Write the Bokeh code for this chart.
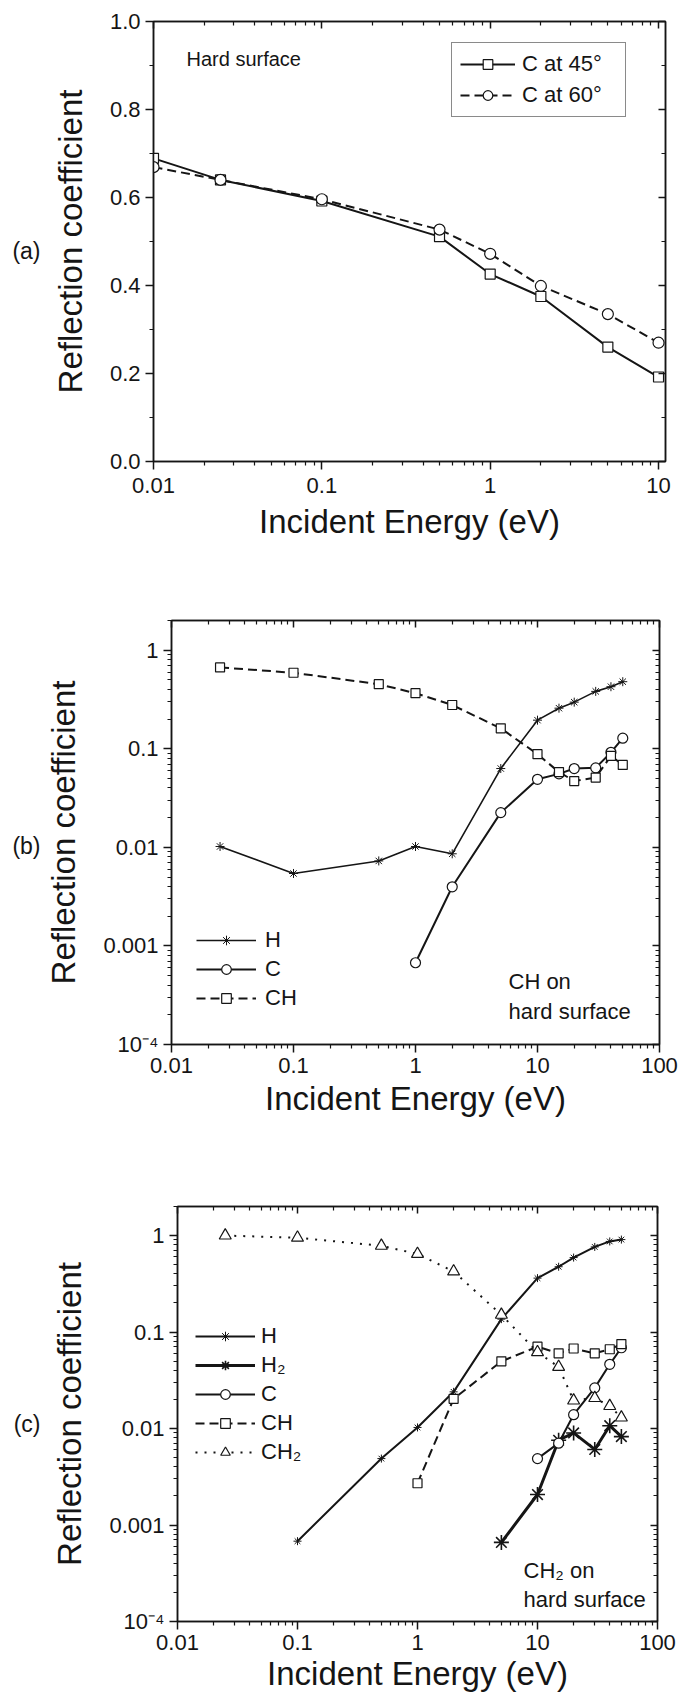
from bokeh.plotting import figure
from bokeh.models import (FixedTicker, LinearAxis, LogAxis, Legend, LegendItem, Label,
                          PrintfTickFormatter, CustomJSTickFormatter, Range1d)
from bokeh.embed import file_html
from bokeh.resources import INLINE

# ---------------- data ----------------
# panel (a): C on hard surface at two incidence angles
a_energy = [0.01, 0.025, 0.1, 0.5, 1, 2, 5, 10]
a_c45 = [0.689, 0.640, 0.592, 0.511, 0.426, 0.375, 0.260, 0.192]
a_c60 = [0.669, 0.640, 0.596, 0.527, 0.472, 0.399, 0.335, 0.270]

# panel (b): CH on hard surface
b_energy_H = [0.025, 0.1, 0.5, 1, 2, 5, 10, 15, 20, 30, 40, 50]
b_H = [0.0102, 0.00543, 0.00728, 0.0102, 0.0086, 0.063, 0.195, 0.258, 0.297, 0.382, 0.426, 0.479]
b_energy_C = [1, 2, 5, 10, 15, 20, 30, 40, 50]
b_C = [0.000675, 0.00398, 0.0225, 0.049, 0.0556, 0.063, 0.064, 0.092, 0.128]
b_energy_CH = [0.025, 0.1, 0.5, 1, 2, 5, 10, 15, 20, 30, 40, 50]
b_CH = [0.669, 0.590, 0.452, 0.366, 0.278, 0.161, 0.0882, 0.058, 0.047, 0.051, 0.0846, 0.0686]

# panel (c): CH2 on hard surface
c_energy_H = [0.1, 0.5, 1, 2, 5, 10, 15, 20, 30, 40, 50]
c_H = [0.00068, 0.00488, 0.01026, 0.024, 0.136, 0.362, 0.475, 0.591, 0.762, 0.869, 0.908]
c_energy_H2 = [5, 10, 15, 20, 30, 40, 50]
c_H2 = [0.00066, 0.00207, 0.00756, 0.009, 0.00607, 0.0107, 0.00825]
c_energy_C = [10, 15, 20, 30, 40, 50]
c_C = [0.00488, 0.00705, 0.0139, 0.0264, 0.0463, 0.0687]
c_energy_CH = [1, 2, 5, 10, 15, 20, 30, 40, 50]
c_CH = [0.00271, 0.0203, 0.0497, 0.0705, 0.0602, 0.0675, 0.0602, 0.0663, 0.075]
c_energy_CH2 = [0.025, 0.1, 0.5, 1, 2, 5, 10, 15, 20, 30, 40, 50]
c_CH2 = [1.0, 0.949, 0.783, 0.645, 0.424, 0.151, 0.0618, 0.0435, 0.0195, 0.0207, 0.0171, 0.013]

# tick labels
a_xticks = [0.01, 0.1, 1, 10]
a_yticks = [0.0, 0.2, 0.4, 0.6, 0.8, 1.0]
a_yminor = [0.1, 0.3, 0.5, 0.7, 0.9]
bc_xticks = [0.01, 0.1, 1, 10, 100]
bc_yticks = [0.0001, 0.001, 0.01, 0.1, 1]

FONT = "Liberation Sans"
INK = "#151515"
TICK_FS = "22px"
TITLE_FS = "33px"


def log_minor(majors):
    out = []
    for d in majors:
        for k in range(2, 10):
            out.append(k * d)
    return out


label_fmt = CustomJSTickFormatter(code="""
if (tick < 0.0005) { return '10\u207B\u2074'; }
return String(parseFloat(tick.toPrecision(6)));
""")
blank_fmt = CustomJSTickFormatter(code="return '';")


def style_axis(ax):
    ax.major_label_text_font = FONT
    ax.major_label_text_font_size = TICK_FS
    ax.major_label_text_color = INK
    ax.axis_label_text_font = FONT
    ax.axis_label_text_font_size = TITLE_FS
    ax.axis_label_text_font_style = "normal"
    ax.axis_label_text_color = INK
    ax.major_tick_out = 8
    ax.major_tick_in = 0
    ax.minor_tick_out = 4
    ax.minor_tick_in = 0
    ax.major_tick_line_width = 1.5
    ax.minor_tick_line_width = 1.2
    ax.major_tick_line_color = INK
    ax.minor_tick_line_color = INK
    ax.axis_line_color = INK
    ax.axis_line_width = 1.5
    ax.major_label_standoff = 5


def mirror_axis(axis_cls, ticker):
    ax = axis_cls(ticker=ticker, formatter=blank_fmt)
    ax.major_tick_in = 7
    ax.major_tick_out = 0
    ax.minor_tick_in = 4
    ax.minor_tick_out = 0
    ax.major_tick_line_width = 1.5
    ax.minor_tick_line_width = 1.2
    ax.major_tick_line_color = INK
    ax.minor_tick_line_color = INK
    ax.axis_line_color = INK
    ax.axis_line_width = 1.5
    ax.major_label_standoff = 0
    return ax


def tag_axis(axis_cls, yval, text, standoff):
    ax = axis_cls(ticker=FixedTicker(ticks=[yval], minor_ticks=[]),
                  formatter=CustomJSTickFormatter(code="return '%s';" % text))
    ax.axis_line_color = None
    ax.major_tick_line_color = None
    ax.minor_tick_line_color = None
    ax.major_tick_out = 0
    ax.major_tick_in = 0
    ax.major_label_standoff = standoff
    ax.major_label_text_font = FONT
    ax.major_label_text_font_size = "23px"
    ax.major_label_text_color = INK
    return ax


def base_fig(height, left, right, top, bottom, x_range, y_range, y_log):
    p = figure(width=694, height=height,
               x_axis_type="log", y_axis_type=("log" if y_log else "linear"),
               x_range=x_range, y_range=y_range,
               output_backend="svg", toolbar_location=None,
               min_border_left=left, min_border_right=right,
               min_border_top=top, min_border_bottom=bottom)
    p.outline_line_color = INK
    p.outline_line_width = 1.5
    p.xgrid.visible = False
    p.ygrid.visible = False
    p.background_fill_color = "white"
    p.border_fill_color = "white"
    return p


def series(p, xs, ys, marker, size, lw, dash="solid", mlw=1.2):
    ln = p.line(xs, ys, line_color=INK, line_width=lw, line_dash=dash)
    sc = p.scatter(xs, ys, marker=marker, size=size, line_color=INK,
                   fill_color="white", line_width=mlw)
    return [ln, sc]


# ---------------- panel (a) ----------------
pa = base_fig(560, 153, 29, 21, 99, Range1d(0.01, 11), Range1d(0.0, 1.0), False)
xt_a = FixedTicker(ticks=a_xticks, minor_ticks=log_minor([0.01, 0.1, 1]))
yt_a = FixedTicker(ticks=a_yticks, minor_ticks=a_yminor)
pa.xaxis.ticker = xt_a
pa.xaxis.formatter = label_fmt
pa.yaxis.ticker = yt_a
pa.yaxis.formatter = PrintfTickFormatter(format="%.1f")
pa.xaxis.axis_label = "Incident Energy (eV)"
pa.yaxis.axis_label = "Reflection coefficient"
for ax in pa.xaxis + pa.yaxis:
    style_axis(ax)
pa.xaxis.major_label_standoff = 8
pa.xaxis.axis_label_standoff = 7
pa.yaxis.axis_label_standoff = 18
pa.add_layout(tag_axis(LinearAxis, 0.4795, "(a)", 8), "left")
pa.add_layout(mirror_axis(LinearAxis, yt_a), "right")
pa.add_layout(mirror_axis(LogAxis, xt_a), "above")

r45 = series(pa, a_energy, a_c45, "square", 10, 2.0)
r60 = series(pa, a_energy, a_c60, "circle", 11, 2.0, dash="9 5")
leg_a = Legend(items=[LegendItem(label="C at 45°", renderers=r45),
                      LegendItem(label="C at 60°", renderers=r60)],
               location=(298, 344), padding=8, spacing=5,
               glyph_width=55, glyph_height=24, label_height=24, label_width=95,
               label_standoff=7, label_text_font=FONT, label_text_font_size="22px",
               label_text_color=INK, border_line_color=INK, border_line_width=1.2,
               background_fill_color="white", background_fill_alpha=1.0)
pa.add_layout(leg_a)
pa.add_layout(Label(x=0.0157, y=0.915, text="Hard surface", text_font=FONT,
                    text_font_size="20px", text_color=INK, text_align="left",
                    text_baseline="middle"))

# ---------------- panel (b) ----------------
pb = base_fig(560, 171, 35, 60, 76, Range1d(0.01, 100), Range1d(0.0001, 2.0), True)
xt_b = FixedTicker(ticks=bc_xticks, minor_ticks=log_minor([0.01, 0.1, 1, 10]))
yt_b = FixedTicker(ticks=bc_yticks, minor_ticks=log_minor([0.0001, 0.001, 0.01, 0.1, 1]))
pb.xaxis.ticker = xt_b
pb.yaxis.ticker = yt_b
pb.xaxis.formatter = label_fmt
pb.yaxis.formatter = label_fmt
pb.xaxis.axis_label = "Incident Energy (eV)"
pb.yaxis.axis_label = "Reflection coefficient"
for ax in pb.xaxis + pb.yaxis:
    style_axis(ax)
pb.xaxis.axis_label_standoff = 4
pb.yaxis.axis_label_standoff = 18
pb.add_layout(tag_axis(LogAxis, 0.0102, "(b)", 2), "left")
pb.add_layout(mirror_axis(LogAxis, yt_b), "right")
pb.add_layout(mirror_axis(LogAxis, xt_b), "above")

rbH = series(pb, b_energy_H, b_H, "asterisk", 9, 1.6, mlw=1.0)
rbC = series(pb, b_energy_C, b_C, "circle", 10, 2.0)
rbCH = series(pb, b_energy_CH, b_CH, "square", 9, 2.0, dash="9 5")
leg_b = Legend(items=[LegendItem(label="H", renderers=rbH),
                      LegendItem(label="C", renderers=rbC),
                      LegendItem(label="CH", renderers=rbCH)],
               location=(25, 33), padding=0, spacing=3,
               glyph_width=60, glyph_height=24, label_height=24,
               label_standoff=9, label_text_font=FONT, label_text_font_size="22px",
               label_text_color=INK, border_line_color=None,
               background_fill_alpha=0.0)
pb.add_layout(leg_b)
for txt, yy in (("CH on", 63), ("hard surface", 33)):
    pb.add_layout(Label(x=337, y=yy, x_units="screen", y_units="screen", text=txt,
                        text_font=FONT, text_font_size="22px", text_color=INK,
                        text_align="left", text_baseline="middle"))

# ---------------- panel (c) ----------------
pc = base_fig(574, 177, 37, 86, 73, Range1d(0.01, 100), Range1d(0.0001, 2.0), True)
xt_c = FixedTicker(ticks=bc_xticks, minor_ticks=log_minor([0.01, 0.1, 1, 10]))
yt_c = FixedTicker(ticks=bc_yticks, minor_ticks=log_minor([0.0001, 0.001, 0.01, 0.1, 1]))
pc.xaxis.ticker = xt_c
pc.yaxis.ticker = yt_c
pc.xaxis.formatter = label_fmt
pc.yaxis.formatter = label_fmt
pc.xaxis.axis_label = "Incident Energy (eV)"
pc.yaxis.axis_label = "Reflection coefficient"
for ax in pc.xaxis + pc.yaxis:
    style_axis(ax)
pc.xaxis.axis_label_standoff = 2
pc.yaxis.axis_label_standoff = 18
pc.add_layout(tag_axis(LogAxis, 0.01127, "(c)", 8), "left")
pc.add_layout(mirror_axis(LogAxis, yt_c), "right")
pc.add_layout(mirror_axis(LogAxis, xt_c), "above")

rcH = series(pc, c_energy_H, c_H, "asterisk", 8, 2.0, mlw=1.0)
rcH2 = series(pc, c_energy_H2, c_H2, "asterisk", 15, 3.0, mlw=1.6)
rcC = series(pc, c_energy_C, c_C, "circle", 10, 2.0)
rcCH = series(pc, c_energy_CH, c_CH, "square", 9, 2.0, dash="9 5")
rcCH2 = series(pc, c_energy_CH2, c_CH2, "triangle", 12, 2.0, dash="2 7")
leg_c = Legend(items=[LegendItem(label="H", renderers=rcH),
                      LegendItem(label="H\u2082", renderers=rcH2),
                      LegendItem(label="C", renderers=rcC),
                      LegendItem(label="CH", renderers=rcCH),
                      LegendItem(label="CH\u2082", renderers=rcCH2)],
               location=(18, 156), padding=0, spacing=3,
               glyph_width=60, glyph_height=24, label_height=24,
               label_standoff=6, label_text_font=FONT, label_text_font_size="22px",
               label_text_color=INK, border_line_color=None,
               background_fill_alpha=0.0)
pc.add_layout(leg_c)
for txt, yy in (("CH\u2082 on", 51), ("hard surface", 22)):
    pc.add_layout(Label(x=346, y=yy, x_units="screen", y_units="screen", text=txt,
                        text_font=FONT, text_font_size="22px", text_color=INK,
                        text_align="left", text_baseline="middle"))

# three independent roots, stacked; avoids frame alignment of a column layout
open("out.html", "w").write(file_html([pa, pb, pc], INLINE))
